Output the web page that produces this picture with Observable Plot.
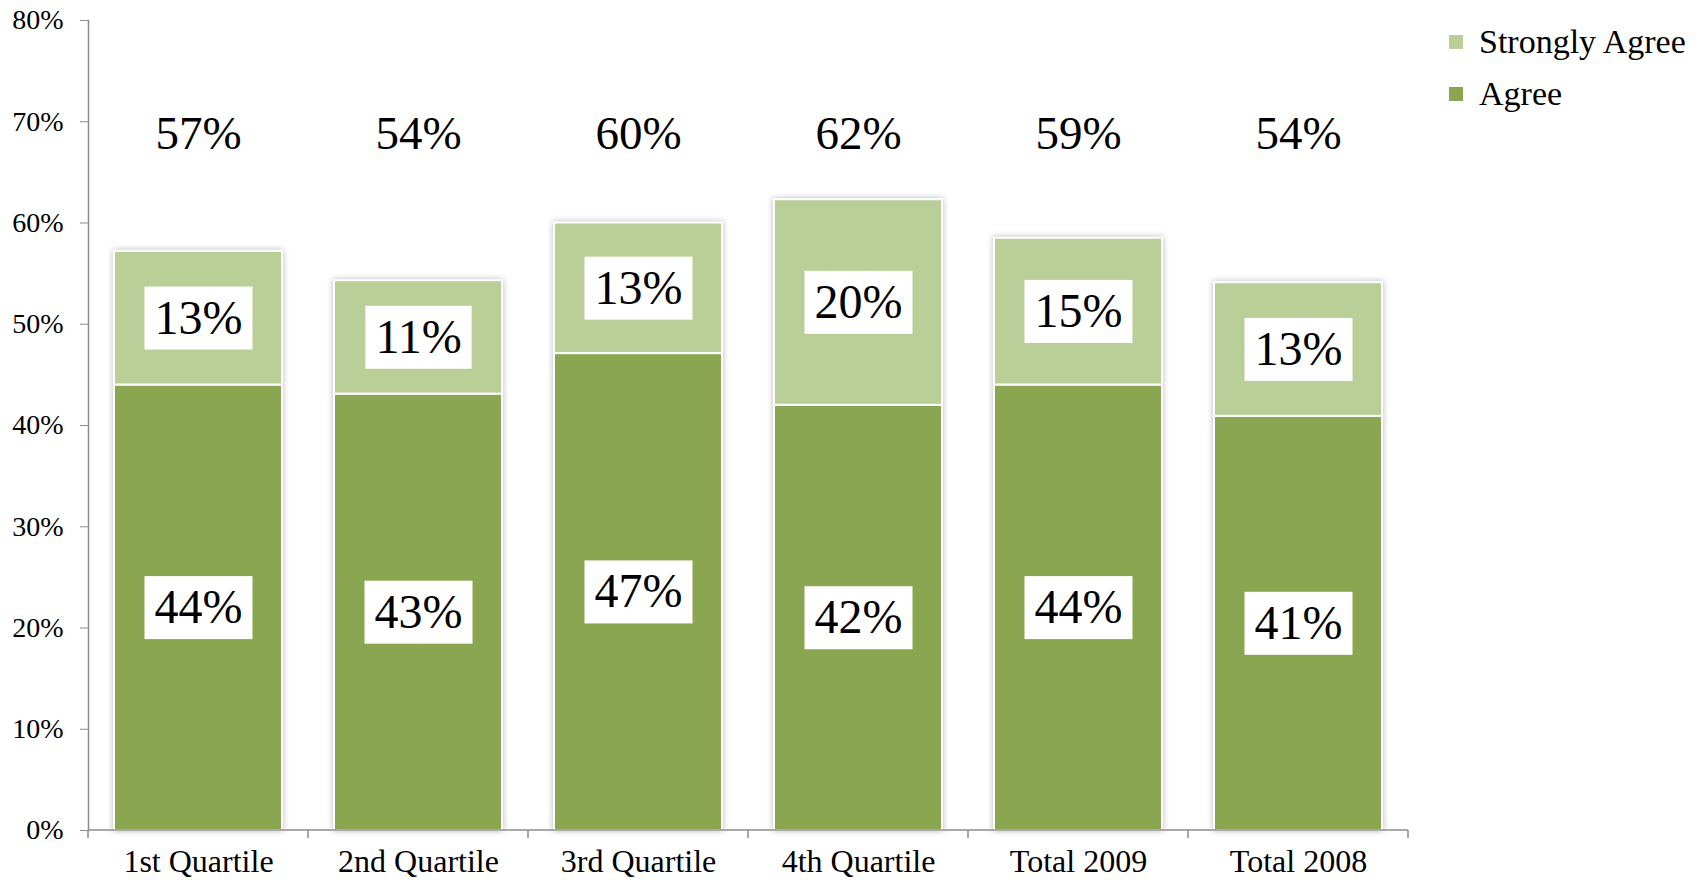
<!DOCTYPE html>
<html><head><meta charset="utf-8">
<script src="https://cdn.jsdelivr.net/npm/d3@7"></script>
<script src="https://cdn.jsdelivr.net/npm/@observablehq/plot@0.6"></script>
<style>
html,body{margin:0;padding:0;background:#fff;}
#wrap{position:relative;width:1705px;height:880px;}
#legend{position:absolute;left:1449px;top:16px;font-family:"Liberation Serif",serif;font-size:34px;color:#000;}
.item{display:flex;align-items:center;height:52px;white-space:nowrap;}
.sw{width:14px;height:14px;margin-right:16px;flex:none;}
g[aria-label="bar"]{filter:drop-shadow(0px 0px 3px rgba(0,0,0,0.28));}
</style></head><body><div id="wrap"><div id="legend"></div></div>
<script>
const categories = ["1st Quartile","2nd Quartile","3rd Quartile","4th Quartile","Total 2009","Total 2008"];
const agree = [44.0, 43.1, 47.1, 42.0, 44.0, 40.9];
const stronglyAgree = [13.2, 11.2, 12.9, 20.3, 14.5, 13.2];
const agreeLabels = ["44%","43%","47%","42%","44%","41%"];
const stronglyLabels = ["13%","11%","13%","20%","15%","13%"];
const totalLabels = ["57%","54%","60%","62%","59%","54%"];
const seriesNames = ["Agree","Strongly Agree"];
const seriesColors = ["#8aa650","#bacf98"];
const yTicks = [0,10,20,30,40,50,60,70,80];

const rows = [];
categories.forEach((c,i) => rows.push({cat:c, series:"Agree", value:agree[i], label:agreeLabels[i]}));
categories.forEach((c,i) => rows.push({cat:c, series:"Strongly Agree", value:stronglyAgree[i], label:stronglyLabels[i]}));
const totals = categories.map((c,i) => ({cat:c, label:totalLabels[i]}));

const axisGray = "#8c8c8c";

function bandTicks(index, scales, values, dims) {
  const x = scales.x, y0 = scales.y(0);
  const bw = typeof x.bandwidth === "function" ? x.bandwidth() : (x.bandwidth || 0);
  const centers = categories.map(c => x(c) + bw/2);
  const n = centers.length;
  const bounds = [centers[0] - (centers[1]-centers[0])/2];
  for (let i = 0; i < n-1; i++) bounds.push((centers[i]+centers[i+1])/2);
  bounds.push(centers[n-1] + (centers[n-1]-centers[n-2])/2);
  const g = d3.create("svg:g");
  g.selectAll("line").data(bounds).join("line")
    .attr("x1", d=>d).attr("x2", d=>d).attr("y1", y0).attr("y2", y0+8)
    .attr("stroke", axisGray).attr("stroke-width", 1.5);
  g.append("line").attr("x1", bounds[0]).attr("x2", bounds[n]).attr("y1", y0).attr("y2", y0)
    .attr("stroke", axisGray).attr("stroke-width", 1.5);
  return g.node();
}

const chart = Plot.plot({
  width: 1705,
  height: 880,
  marginLeft: 88,
  marginRight: 297,
  marginTop: 20,
  marginBottom: 50,
  style: {fontFamily: "'Liberation Serif', serif", color: "#000", background: "#fff"},
  x: {domain: categories, paddingInner: 0.236, paddingOuter: 0.118, label: null},
  y: {domain: [0, 80], label: null},
  color: {domain: seriesNames, range: seriesColors},
  marks: [
    Plot.frame({anchor: "left", stroke: axisGray, strokeWidth: 1.5}),
    Plot.axisY({ticks: yTicks, tickFormat: d => d + "%", tickSize: 8, tickPadding: 17, fontSize: 28, stroke: axisGray, fill: "#000", label: null}),
    Plot.axisX({tickSize: 0, tickPadding: 19, fontSize: 32, fill: "#000", label: null}),
    Plot.barY(rows, {x: "cat", y: "value", fill: "series", stroke: "#fff", strokeWidth: 2}),
    bandTicks,
    Plot.text(rows, Plot.stackY({x: "cat", y: "value", z: "series", text: "label", fontSize: 48, fill: "#000"})),
    Plot.text(totals, {x: "cat", text: "label", frameAnchor: "top", lineAnchor: "middle", dy: 113, fontSize: 47, fill: "#000"})
  ]
});
document.getElementById("wrap").prepend(chart);

// white boxes behind segment labels
chart.querySelectorAll("g").forEach(g => {
  if (g.getAttribute("font-size") !== "48") return;
  g.querySelectorAll("text").forEach(t => {
    const b = t.getBBox();
    const padX = 10, h = 63;
    const cy = b.y + b.height/2;
    const r = document.createElementNS("http://www.w3.org/2000/svg", "rect");
    r.setAttribute("x", b.x - padX);
    r.setAttribute("y", cy - h/2 + 1);
    r.setAttribute("width", b.width + 2*padX);
    r.setAttribute("height", h);
    r.setAttribute("fill", "#fff");
    const tr = t.getAttribute("transform");
    if (tr) r.setAttribute("transform", tr);
    t.parentNode.insertBefore(r, t);
  });
});

// legend
const leg = d3.select("#legend");
[1,0].forEach(i => {
  const it = leg.append("div").attr("class","item");
  it.append("div").attr("class","sw").style("background", seriesColors[i]);
  it.append("span").text(seriesNames[i]);
});
</script>
</body></html>
